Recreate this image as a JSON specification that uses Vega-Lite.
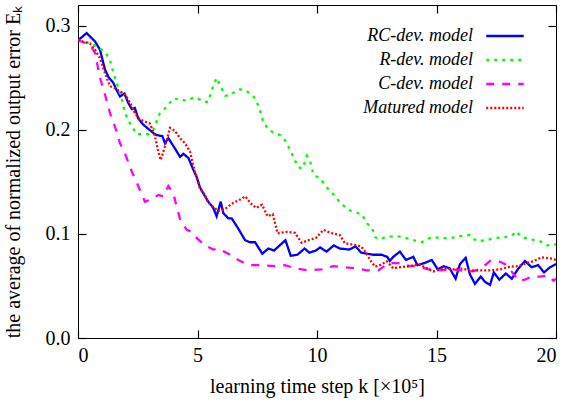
{
  "$schema": "https://vega.github.io/schema/vega-lite/v6.json",
  "width": 478,
  "height": 333,
  "autosize": "none",
  "padding": {"left": 78, "top": 5, "right": 11, "bottom": 67},
  "background": "white",
  "config": {
    "view": {"stroke": "black", "strokeWidth": 1},
    "font": "Liberation Serif",
    "axis": {
      "grid": false,
      "domainColor": "black",
      "tickColor": "black",
      "labelColor": "black",
      "titleColor": "black",
      "labelFont": "Liberation Serif",
      "titleFont": "Liberation Serif",
      "labelFontSize": 20,
      "titleFontSize": 20,
      "titleFontWeight": "normal",
      "tickWidth": 1.2,
      "zindex": 1
    }
  },
  "data": {
    "values": [
      {"model":"RC-dev. model","k":0,"E":0.286},{"model":"RC-dev. model","k":0.36,"E":0.293},{"model":"RC-dev. model","k":0.71,"E":0.285},{"model":"RC-dev. model","k":0.92,"E":0.277},{"model":"RC-dev. model","k":1.13,"E":0.258},{"model":"RC-dev. model","k":1.27,"E":0.251},{"model":"RC-dev. model","k":1.48,"E":0.245},{"model":"RC-dev. model","k":1.62,"E":0.238},{"model":"RC-dev. model","k":1.76,"E":0.232},{"model":"RC-dev. model","k":1.94,"E":0.235},{"model":"RC-dev. model","k":2.1,"E":0.226},{"model":"RC-dev. model","k":2.25,"E":0.22},{"model":"RC-dev. model","k":2.38,"E":0.221},{"model":"RC-dev. model","k":2.52,"E":0.211},{"model":"RC-dev. model","k":2.73,"E":0.205},{"model":"RC-dev. model","k":2.94,"E":0.201},{"model":"RC-dev. model","k":3.15,"E":0.197},{"model":"RC-dev. model","k":3.29,"E":0.195},{"model":"RC-dev. model","k":3.53,"E":0.194},{"model":"RC-dev. model","k":3.64,"E":0.187},{"model":"RC-dev. model","k":3.78,"E":0.192},{"model":"RC-dev. model","k":4.06,"E":0.182},{"model":"RC-dev. model","k":4.27,"E":0.174},{"model":"RC-dev. model","k":4.41,"E":0.177},{"model":"RC-dev. model","k":4.62,"E":0.173},{"model":"RC-dev. model","k":4.82,"E":0.162},{"model":"RC-dev. model","k":4.96,"E":0.155},{"model":"RC-dev. model","k":5.1,"E":0.145},{"model":"RC-dev. model","k":5.24,"E":0.139},{"model":"RC-dev. model","k":5.45,"E":0.131},{"model":"RC-dev. model","k":5.66,"E":0.125},{"model":"RC-dev. model","k":5.8,"E":0.117},{"model":"RC-dev. model","k":5.97,"E":0.131},{"model":"RC-dev. model","k":6.08,"E":0.12},{"model":"RC-dev. model","k":6.29,"E":0.115},{"model":"RC-dev. model","k":6.43,"E":0.115},{"model":"RC-dev. model","k":6.71,"E":0.105},{"model":"RC-dev. model","k":6.99,"E":0.094},{"model":"RC-dev. model","k":7.2,"E":0.092},{"model":"RC-dev. model","k":7.41,"E":0.092},{"model":"RC-dev. model","k":7.71,"E":0.081},{"model":"RC-dev. model","k":7.97,"E":0.086},{"model":"RC-dev. model","k":8.2,"E":0.084},{"model":"RC-dev. model","k":8.68,"E":0.094},{"model":"RC-dev. model","k":8.9,"E":0.079},{"model":"RC-dev. model","k":9.18,"E":0.08},{"model":"RC-dev. model","k":9.48,"E":0.086},{"model":"RC-dev. model","k":9.68,"E":0.082},{"model":"RC-dev. model","k":9.95,"E":0.084},{"model":"RC-dev. model","k":10.13,"E":0.087},{"model":"RC-dev. model","k":10.4,"E":0.083},{"model":"RC-dev. model","k":10.7,"E":0.089},{"model":"RC-dev. model","k":10.95,"E":0.086},{"model":"RC-dev. model","k":11.35,"E":0.085},{"model":"RC-dev. model","k":11.62,"E":0.088},{"model":"RC-dev. model","k":11.85,"E":0.082},{"model":"RC-dev. model","k":12.1,"E":0.081},{"model":"RC-dev. model","k":12.36,"E":0.08},{"model":"RC-dev. model","k":12.7,"E":0.08},{"model":"RC-dev. model","k":12.94,"E":0.078},{"model":"RC-dev. model","k":13.05,"E":0.074},{"model":"RC-dev. model","k":13.19,"E":0.078},{"model":"RC-dev. model","k":13.47,"E":0.083},{"model":"RC-dev. model","k":13.72,"E":0.075},{"model":"RC-dev. model","k":14.03,"E":0.078},{"model":"RC-dev. model","k":14.2,"E":0.07},{"model":"RC-dev. model","k":14.5,"E":0.072},{"model":"RC-dev. model","k":14.8,"E":0.075},{"model":"RC-dev. model","k":15.05,"E":0.066},{"model":"RC-dev. model","k":15.3,"E":0.069},{"model":"RC-dev. model","k":15.55,"E":0.067},{"model":"RC-dev. model","k":15.8,"E":0.057},{"model":"RC-dev. model","k":15.98,"E":0.071},{"model":"RC-dev. model","k":16.22,"E":0.077},{"model":"RC-dev. model","k":16.4,"E":0.061},{"model":"RC-dev. model","k":16.61,"E":0.052},{"model":"RC-dev. model","k":16.85,"E":0.059},{"model":"RC-dev. model","k":17.03,"E":0.054},{"model":"RC-dev. model","k":17.24,"E":0.051},{"model":"RC-dev. model","k":17.4,"E":0.063},{"model":"RC-dev. model","k":17.63,"E":0.056},{"model":"RC-dev. model","k":17.9,"E":0.062},{"model":"RC-dev. model","k":18.15,"E":0.057},{"model":"RC-dev. model","k":18.4,"E":0.066},{"model":"RC-dev. model","k":18.7,"E":0.074},{"model":"RC-dev. model","k":18.98,"E":0.068},{"model":"RC-dev. model","k":19.25,"E":0.07},{"model":"RC-dev. model","k":19.5,"E":0.063},{"model":"RC-dev. model","k":19.75,"E":0.068},{"model":"RC-dev. model","k":20,"E":0.071},
      {"model":"R-dev. model","k":0,"E":0.286},{"model":"R-dev. model","k":0.57,"E":0.283},{"model":"R-dev. model","k":1.13,"E":0.275},{"model":"R-dev. model","k":1.34,"E":0.267},{"model":"R-dev. model","k":1.48,"E":0.255},{"model":"R-dev. model","k":1.62,"E":0.245},{"model":"R-dev. model","k":1.83,"E":0.23},{"model":"R-dev. model","k":1.97,"E":0.216},{"model":"R-dev. model","k":2.18,"E":0.206},{"model":"R-dev. model","k":2.45,"E":0.196},{"model":"R-dev. model","k":2.94,"E":0.196},{"model":"R-dev. model","k":3.15,"E":0.2},{"model":"R-dev. model","k":3.4,"E":0.215},{"model":"R-dev. model","k":3.7,"E":0.222},{"model":"R-dev. model","k":3.99,"E":0.23},{"model":"R-dev. model","k":4.34,"E":0.229},{"model":"R-dev. model","k":4.54,"E":0.228},{"model":"R-dev. model","k":4.82,"E":0.231},{"model":"R-dev. model","k":5.03,"E":0.23},{"model":"R-dev. model","k":5.27,"E":0.227},{"model":"R-dev. model","k":5.45,"E":0.227},{"model":"R-dev. model","k":5.59,"E":0.238},{"model":"R-dev. model","k":5.8,"E":0.25},{"model":"R-dev. model","k":5.94,"E":0.243},{"model":"R-dev. model","k":6.15,"E":0.233},{"model":"R-dev. model","k":6.36,"E":0.233},{"model":"R-dev. model","k":6.57,"E":0.237},{"model":"R-dev. model","k":6.78,"E":0.239},{"model":"R-dev. model","k":7.06,"E":0.237},{"model":"R-dev. model","k":7.27,"E":0.234},{"model":"R-dev. model","k":7.45,"E":0.229},{"model":"R-dev. model","k":7.62,"E":0.218},{"model":"R-dev. model","k":7.75,"E":0.208},{"model":"R-dev. model","k":7.96,"E":0.2},{"model":"R-dev. model","k":8.24,"E":0.197},{"model":"R-dev. model","k":8.45,"E":0.195},{"model":"R-dev. model","k":8.66,"E":0.19},{"model":"R-dev. model","k":8.87,"E":0.181},{"model":"R-dev. model","k":9.05,"E":0.172},{"model":"R-dev. model","k":9.22,"E":0.164},{"model":"R-dev. model","k":9.4,"E":0.163},{"model":"R-dev. model","k":9.57,"E":0.175},{"model":"R-dev. model","k":9.71,"E":0.17},{"model":"R-dev. model","k":9.85,"E":0.157},{"model":"R-dev. model","k":10.15,"E":0.153},{"model":"R-dev. model","k":10.4,"E":0.145},{"model":"R-dev. model","k":10.65,"E":0.139},{"model":"R-dev. model","k":10.9,"E":0.132},{"model":"R-dev. model","k":11.17,"E":0.126},{"model":"R-dev. model","k":11.42,"E":0.122},{"model":"R-dev. model","k":11.87,"E":0.119},{"model":"R-dev. model","k":12.1,"E":0.11},{"model":"R-dev. model","k":12.3,"E":0.106},{"model":"R-dev. model","k":12.43,"E":0.097},{"model":"R-dev. model","k":12.57,"E":0.095},{"model":"R-dev. model","k":12.91,"E":0.097},{"model":"R-dev. model","k":13.3,"E":0.098},{"model":"R-dev. model","k":13.6,"E":0.097},{"model":"R-dev. model","k":13.89,"E":0.095},{"model":"R-dev. model","k":14.38,"E":0.092},{"model":"R-dev. model","k":14.8,"E":0.097},{"model":"R-dev. model","k":15.2,"E":0.096},{"model":"R-dev. model","k":15.6,"E":0.096},{"model":"R-dev. model","k":15.98,"E":0.098},{"model":"R-dev. model","k":16.4,"E":0.099},{"model":"R-dev. model","k":16.68,"E":0.093},{"model":"R-dev. model","k":17.1,"E":0.094},{"model":"R-dev. model","k":17.45,"E":0.096},{"model":"R-dev. model","k":17.87,"E":0.097},{"model":"R-dev. model","k":18.14,"E":0.098},{"model":"R-dev. model","k":18.33,"E":0.1025},{"model":"R-dev. model","k":18.56,"E":0.097},{"model":"R-dev. model","k":18.91,"E":0.095},{"model":"R-dev. model","k":19.33,"E":0.093},{"model":"R-dev. model","k":19.61,"E":0.089},{"model":"R-dev. model","k":20,"E":0.09},
      {"model":"C-dev. model","k":0,"E":0.286},{"model":"C-dev. model","k":0.5,"E":0.282},{"model":"C-dev. model","k":0.71,"E":0.274},{"model":"C-dev. model","k":0.92,"E":0.25},{"model":"C-dev. model","k":1.13,"E":0.234},{"model":"C-dev. model","k":1.34,"E":0.216},{"model":"C-dev. model","k":1.55,"E":0.203},{"model":"C-dev. model","k":1.76,"E":0.187},{"model":"C-dev. model","k":1.97,"E":0.177},{"model":"C-dev. model","k":2.25,"E":0.16},{"model":"C-dev. model","k":2.52,"E":0.146},{"model":"C-dev. model","k":2.8,"E":0.131},{"model":"C-dev. model","k":3.15,"E":0.134},{"model":"C-dev. model","k":3.36,"E":0.1375},{"model":"C-dev. model","k":3.57,"E":0.136},{"model":"C-dev. model","k":3.78,"E":0.146},{"model":"C-dev. model","k":3.99,"E":0.139},{"model":"C-dev. model","k":4.13,"E":0.126},{"model":"C-dev. model","k":4.3,"E":0.112},{"model":"C-dev. model","k":4.55,"E":0.104},{"model":"C-dev. model","k":4.76,"E":0.102},{"model":"C-dev. model","k":4.97,"E":0.096},{"model":"C-dev. model","k":5.31,"E":0.089},{"model":"C-dev. model","k":5.66,"E":0.085},{"model":"C-dev. model","k":5.87,"E":0.086},{"model":"C-dev. model","k":6.29,"E":0.081},{"model":"C-dev. model","k":6.71,"E":0.075},{"model":"C-dev. model","k":7.13,"E":0.07},{"model":"C-dev. model","k":7.69,"E":0.07},{"model":"C-dev. model","k":8.24,"E":0.069},{"model":"C-dev. model","k":8.66,"E":0.07},{"model":"C-dev. model","k":9.08,"E":0.067},{"model":"C-dev. model","k":9.64,"E":0.065},{"model":"C-dev. model","k":10.2,"E":0.066},{"model":"C-dev. model","k":10.68,"E":0.069},{"model":"C-dev. model","k":11.1,"E":0.068},{"model":"C-dev. model","k":11.59,"E":0.067},{"model":"C-dev. model","k":12.08,"E":0.065},{"model":"C-dev. model","k":12.57,"E":0.065},{"model":"C-dev. model","k":12.99,"E":0.072},{"model":"C-dev. model","k":13.47,"E":0.072},{"model":"C-dev. model","k":13.89,"E":0.069},{"model":"C-dev. model","k":14.24,"E":0.069},{"model":"C-dev. model","k":14.66,"E":0.066},{"model":"C-dev. model","k":15.15,"E":0.065},{"model":"C-dev. model","k":15.56,"E":0.066},{"model":"C-dev. model","k":15.98,"E":0.065},{"model":"C-dev. model","k":16.54,"E":0.064},{"model":"C-dev. model","k":16.89,"E":0.067},{"model":"C-dev. model","k":17.24,"E":0.074},{"model":"C-dev. model","k":17.59,"E":0.074},{"model":"C-dev. model","k":17.87,"E":0.071},{"model":"C-dev. model","k":18.21,"E":0.062},{"model":"C-dev. model","k":18.42,"E":0.055},{"model":"C-dev. model","k":18.7,"E":0.056},{"model":"C-dev. model","k":18.98,"E":0.059},{"model":"C-dev. model","k":19.33,"E":0.059},{"model":"C-dev. model","k":19.68,"E":0.06},{"model":"C-dev. model","k":19.89,"E":0.055},{"model":"C-dev. model","k":20,"E":0.057},
      {"model":"Matured model","k":0,"E":0.286},{"model":"Matured model","k":0.5,"E":0.283},{"model":"Matured model","k":0.71,"E":0.277},{"model":"Matured model","k":0.92,"E":0.269},{"model":"Matured model","k":1.06,"E":0.259},{"model":"Matured model","k":1.2,"E":0.25},{"model":"Matured model","k":1.34,"E":0.242},{"model":"Matured model","k":1.55,"E":0.24},{"model":"Matured model","k":1.76,"E":0.237},{"model":"Matured model","k":1.97,"E":0.234},{"model":"Matured model","k":2.18,"E":0.226},{"model":"Matured model","k":2.38,"E":0.216},{"model":"Matured model","k":2.59,"E":0.21},{"model":"Matured model","k":2.8,"E":0.208},{"model":"Matured model","k":3.01,"E":0.206},{"model":"Matured model","k":3.22,"E":0.194},{"model":"Matured model","k":3.36,"E":0.179},{"model":"Matured model","k":3.46,"E":0.171},{"model":"Matured model","k":3.64,"E":0.184},{"model":"Matured model","k":3.85,"E":0.202},{"model":"Matured model","k":4.06,"E":0.199},{"model":"Matured model","k":4.27,"E":0.192},{"model":"Matured model","k":4.48,"E":0.187},{"model":"Matured model","k":4.69,"E":0.179},{"model":"Matured model","k":4.83,"E":0.165},{"model":"Matured model","k":4.97,"E":0.154},{"model":"Matured model","k":5.1,"E":0.144},{"model":"Matured model","k":5.31,"E":0.1375},{"model":"Matured model","k":5.45,"E":0.13},{"model":"Matured model","k":5.66,"E":0.126},{"model":"Matured model","k":5.87,"E":0.122},{"model":"Matured model","k":6.15,"E":0.124},{"model":"Matured model","k":6.5,"E":0.13},{"model":"Matured model","k":6.78,"E":0.133},{"model":"Matured model","k":7,"E":0.136},{"model":"Matured model","k":7.22,"E":0.1295},{"model":"Matured model","k":7.45,"E":0.125},{"model":"Matured model","k":7.7,"E":0.128},{"model":"Matured model","k":7.93,"E":0.117},{"model":"Matured model","k":8.15,"E":0.119},{"model":"Matured model","k":8.35,"E":0.1006},{"model":"Matured model","k":8.75,"E":0.102},{"model":"Matured model","k":9.08,"E":0.101},{"model":"Matured model","k":9.36,"E":0.0915},{"model":"Matured model","k":9.64,"E":0.094},{"model":"Matured model","k":9.95,"E":0.096},{"model":"Matured model","k":10.27,"E":0.104},{"model":"Matured model","k":10.57,"E":0.101},{"model":"Matured model","k":10.95,"E":0.099},{"model":"Matured model","k":11.17,"E":0.091},{"model":"Matured model","k":11.59,"E":0.0894},{"model":"Matured model","k":11.85,"E":0.088},{"model":"Matured model","k":12.05,"E":0.082},{"model":"Matured model","k":12.22,"E":0.075},{"model":"Matured model","k":12.43,"E":0.0686},{"model":"Matured model","k":12.64,"E":0.07},{"model":"Matured model","k":12.92,"E":0.0737},{"model":"Matured model","k":13.19,"E":0.067},{"model":"Matured model","k":13.47,"E":0.068},{"model":"Matured model","k":13.89,"E":0.069},{"model":"Matured model","k":14.24,"E":0.071},{"model":"Matured model","k":14.52,"E":0.068},{"model":"Matured model","k":14.87,"E":0.064},{"model":"Matured model","k":15.28,"E":0.067},{"model":"Matured model","k":15.7,"E":0.066},{"model":"Matured model","k":15.98,"E":0.067},{"model":"Matured model","k":16.4,"E":0.065},{"model":"Matured model","k":16.82,"E":0.065},{"model":"Matured model","k":17.24,"E":0.065},{"model":"Matured model","k":17.66,"E":0.066},{"model":"Matured model","k":18.08,"E":0.0686},{"model":"Matured model","k":18.42,"E":0.069},{"model":"Matured model","k":18.77,"E":0.072},{"model":"Matured model","k":19.05,"E":0.0737},{"model":"Matured model","k":19.4,"E":0.0776},{"model":"Matured model","k":19.75,"E":0.0766},{"model":"Matured model","k":20,"E":0.075}
    ]
  },
  "layer": [
    {
      "mark": {"type": "line", "strokeOpacity": 0},
      "encoding": {
        "x": {"field": "k", "type": "quantitative", "scale": {"domain": [0, 20], "nice": false},
              "axis": {"orient": "top", "values": [0, 5, 10, 15, 20], "labels": false, "title": null, "domain": false, "tickSize": -8, "tickColor": "black"}},
        "y": {"field": "E", "type": "quantitative", "scale": {"domain": [0, 0.32], "nice": false, "zero": false},
              "axis": {"orient": "right", "values": [0, 0.1, 0.2, 0.3], "labels": false, "title": null, "domain": false, "tickSize": -8, "tickColor": "black"}},
        "detail": {"field": "model"}
      }
    },
    {
      "mark": {"type": "line", "strokeWidth": 2.3, "strokeCap": "butt", "clip": true},
      "encoding": {
        "x": {"field": "k", "type": "quantitative", "scale": {"domain": [0, 20], "nice": false},
              "axis": {"orient": "bottom", "values": [0, 5, 10, 15, 20], "title": "learning time step k  [×10⁵]", "labelFont": "Liberation Serif", "titleFont": "Liberation Serif", "labelFontSize": 20, "titleFontSize": 20, "labelPadding": 15, "titlePadding": 11, "domain": false, "tickSize": -8, "tickColor": "black"}},
        "y": {"field": "E", "type": "quantitative", "scale": {"domain": [0, 0.32], "nice": false, "zero": false},
              "axis": {"orient": "left", "values": [0, 0.1, 0.2, 0.3], "format": ".1f", "title": "the average of normalized output error  Eₖ", "labelFont": "Liberation Serif", "titleFont": "Liberation Serif", "labelFontSize": 20, "titleFontSize": 20, "labelPadding": 16, "titlePadding": 22, "domain": false, "tickSize": -8, "tickColor": "black"}},
        "color": {"field": "model", "type": "nominal",
                  "scale": {"domain": ["RC-dev. model", "R-dev. model", "C-dev. model", "Matured model"], "range": ["#0000ff", "#00ff00", "#ff00ff", "#ff0000"]},
                  "legend": {"title": null, "orient": "none", "legendX": 413, "legendY": 17, "symbolType": "M-1.5,0H1.5", "symbolSize": 625, "symbolStrokeWidth": 2.3,
                             "labelFont": "Liberation Serif", "labelFontStyle": "italic", "labelFontSize": 18, "labelColor": "black",
                             "labelAlign": "right", "labelOffset": -46, "rowPadding": 1}},
        "strokeDash": {"field": "model", "type": "nominal",
                  "scale": {"domain": ["RC-dev. model", "R-dev. model", "C-dev. model", "Matured model"], "range": [[1, 0], [3, 5], [8, 8], [2, 2]]},
                  "legend": {"title": null, "orient": "none", "legendX": 413, "legendY": 17, "symbolType": "M-1.5,0H1.5", "symbolSize": 625, "symbolStrokeWidth": 2.3,
                             "labelFont": "Liberation Serif", "labelFontStyle": "italic", "labelFontSize": 18, "labelColor": "black",
                             "labelAlign": "right", "labelOffset": -46, "rowPadding": 1}}
      }
    }
  ]
}
